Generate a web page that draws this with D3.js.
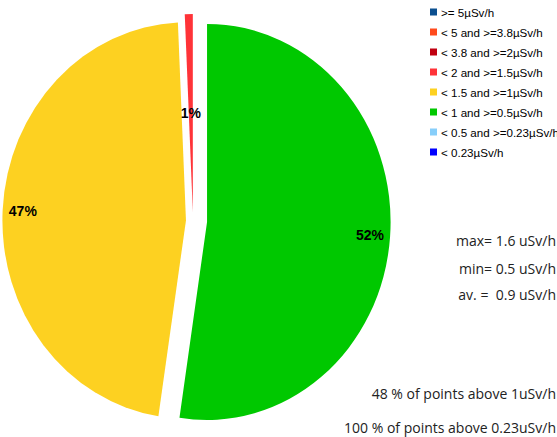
<!DOCTYPE html>
<html><head><meta charset="utf-8">
<script src="https://cdn.jsdelivr.net/npm/d3@7"></script>
<style>body{margin:0;background:#fff}svg{display:block}</style>
</head><body>
<svg id="chart" width="557" height="437"></svg>
<script>
// ---- data ----
const categories = [">= 5µSv/h", "< 5 and >=3.8µSv/h", "< 3.8 and >=2µSv/h", "< 2 and >=1.5µSv/h",
  "< 1.5 and >=1µSv/h", "< 1 and >=0.5µSv/h", "< 0.5 and >=0.23µSv/h", "< 0.23µSv/h"];
const shares = [0, 0, 0, 0.7, 46.9, 52.4, 0, 0];
const colors = ["#0b4f8f", "#ff4a1c", "#c00010", "#ff3338", "#fdd121", "#00c800", "#87cefa", "#0000ff"];
const explode = [10, 10, 10, 8.8, 7.6, 15.2, 10, 10];
const statLines = ["max= 1.6 uSv/h", "min= 0.5 uSv/h", "av. =\u00a0 0.9 uSv/h"];
const summaryLines = ["48 % of points above 1uSv/h", "100 % of points above 0.23uSv/h"];

// ---- layout ----
const svg = d3.select("#chart");
const cx = 193, cy = 220.8, R = 198, sx = 0.927;

const items = categories.map((c, i) => ({cat: c, value: shares[i], color: colors[i], off: explode[i]})).reverse();
const pie = d3.pie().sort(null).value(d => d.value).startAngle(0).endAngle(2 * Math.PI);
const arcs = pie(items).filter(a => a.data.value > 0);
const arc = d3.arc().innerRadius(0).outerRadius(R);

const g = svg.append("g").attr("transform", `translate(${cx},${cy}) scale(${sx},1)`);
arcs.forEach(a => {
  const m = (a.startAngle + a.endAngle) / 2;
  a.ox = a.data.off * Math.sin(m);
  a.oy = -a.data.off * Math.cos(m);
  a.mid = m;
});
g.selectAll("path").data(arcs).join("path")
  .attr("transform", a => `translate(${a.ox},${a.oy})`)
  .attr("d", arc)
  .attr("fill", a => a.data.color);

// labels
svg.selectAll("text.pct").data(arcs).join("text")
  .attr("class", "pct")
  .attr("x", a => {
    const f = (a.endAngle - a.startAngle) < 0.2 ? 0.5 : 0.89;
    return cx + (a.ox + f * R * Math.sin(a.mid)) * sx;
  })
  .attr("y", a => {
    const f = (a.endAngle - a.startAngle) < 0.2 ? 0.5 : 0.89;
    return cy + a.oy - f * R * Math.cos(a.mid);
  })
  .attr("text-anchor", "middle").attr("dominant-baseline", "central")
  .attr("font-family", "'Liberation Sans', Arial, sans-serif")
  .attr("font-weight", "bold").attr("font-size", 14).attr("fill", "#000")
  .text(a => Math.round(a.data.value) + "%");

// legend
const leg = svg.append("g");
const ly = d3.scalePoint().domain(categories).range([12, 152]);
categories.forEach((c, i) => {
  leg.append("rect").attr("x", 430).attr("y", ly(c) - 3.5).attr("width", 7).attr("height", 7).attr("fill", colors[i]);
  leg.append("text").attr("x", 441).attr("y", ly(c)).attr("dominant-baseline", "central")
    .attr("font-family", "'Liberation Sans', Arial, sans-serif").attr("font-size", 11.6).attr("fill", "#000")
    .text(c);
});

// stats
const st = svg.append("g").attr("font-family", "'Open Sans', sans-serif").attr("font-size", 14).attr("fill", "#222")
  .attr("text-anchor", "end");
const statY = [240, 268.5, 294.5];
statLines.forEach((t, i) => st.append("text").attr("x", 556).attr("y", statY[i]).attr("dominant-baseline", "central").text(t));
const sumY = [393, 427];
summaryLines.forEach((t, i) => st.append("text").attr("x", 556).attr("y", sumY[i]).attr("dominant-baseline", "central").text(t));
</script>
</body></html>
